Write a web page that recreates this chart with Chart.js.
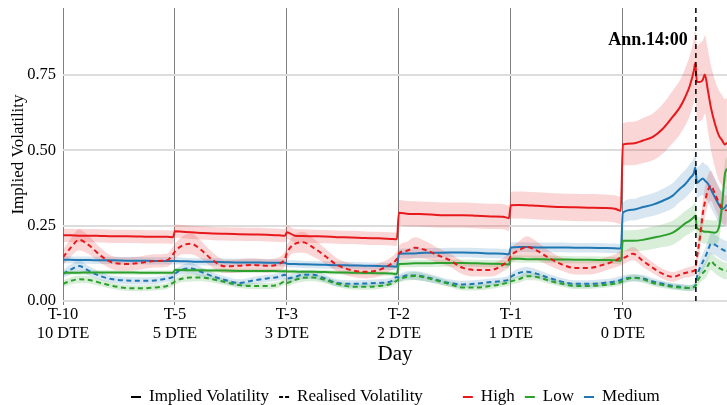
<!DOCTYPE html>
<html><head><meta charset="utf-8">
<script src="https://cdn.jsdelivr.net/npm/chart.js@4.4.1/dist/chart.umd.min.js"></script>
<style>html,body{margin:0;padding:0;background:#fff}#wrap{width:727px;height:405px;position:relative}</style>
</head><body><div id="wrap"><canvas id="c"></canvas></div>
<script>
// ---- Data (time in trading days from T-10 session start) ----
const time = [
0,0.071,0.143,0.232,0.339,0.446,0.571,0.696,0.821,0.929,0.982,
1,1.071,1.143,1.232,1.339,1.446,1.571,1.696,1.821,1.929,1.982,
2,2.071,2.143,2.232,2.339,2.446,2.571,2.696,2.821,2.929,2.982,
3,3.071,3.143,3.232,3.339,3.446,3.571,3.696,3.821,3.929,3.982,
4,4.071,4.143,4.232,4.339,4.446,4.571,4.696,4.821,4.929,4.982,
5,5.089,5.179,5.268,5.357,5.446,5.509,5.554,5.598,5.634,5.647,5.661,5.688,5.714,5.732,5.759,5.786,5.821,5.857,5.884,5.911,5.929];

const dayTicks = [0,1,2,3,4,5];
const dayLabels = ['T-10','T-5','T-3','T-2','T-1','T0'];
const dteLabels = ['10 DTE','5 DTE','3 DTE','2 DTE','1 DTE','0 DTE'];
const yTicks = [0,0.25,0.5,0.75];
const annTime = 5.652;
const annLabel = 'Ann.14:00';

const highIV = [
0.218,0.218,0.217,0.217,0.216,0.215,0.215,0.214,0.213,0.213,0.212,
0.232,0.230,0.228,0.226,0.224,0.223,0.222,0.221,0.220,0.218,0.217,
0.228,0.217,0.216,0.215,0.214,0.212,0.211,0.209,0.208,0.206,0.205,
0.293,0.290,0.289,0.288,0.286,0.285,0.285,0.283,0.281,0.280,0.275,
0.318,0.319,0.318,0.316,0.314,0.312,0.311,0.310,0.309,0.306,0.300,
0.520,0.523,0.533,0.545,0.572,0.612,0.643,0.675,0.715,0.765,0.790,0.728,0.727,0.735,0.752,0.700,0.643,0.590,0.550,0.535,0.520,0.525];
const highRV = [
0.145,0.178,0.203,0.185,0.150,0.127,0.123,0.127,0.133,0.135,0.155,
0.165,0.185,0.190,0.170,0.135,0.115,0.117,0.120,0.117,0.123,0.140,
0.160,0.190,0.195,0.178,0.150,0.120,0.103,0.097,0.103,0.123,0.140,
0.158,0.167,0.177,0.170,0.153,0.137,0.110,0.103,0.103,0.120,0.137,
0.150,0.168,0.180,0.167,0.143,0.123,0.110,0.110,0.120,0.133,0.143,
0.143,0.157,0.133,0.110,0.090,0.080,0.087,0.093,0.097,0.100,0.105,0.143,0.210,0.290,0.327,0.367,0.383,0.357,0.327,0.310,0.303,0.300];
const midIV = [
0.137,0.137,0.136,0.136,0.135,0.135,0.134,0.134,0.133,0.133,0.133,
0.133,0.132,0.131,0.130,0.130,0.129,0.128,0.128,0.127,0.127,0.127,
0.124,0.123,0.122,0.121,0.120,0.119,0.118,0.117,0.116,0.115,0.114,
0.157,0.158,0.158,0.160,0.160,0.161,0.161,0.160,0.158,0.157,0.155,
0.178,0.179,0.179,0.178,0.178,0.178,0.177,0.177,0.176,0.175,0.174,
0.293,0.303,0.312,0.320,0.333,0.350,0.373,0.387,0.407,0.425,0.443,0.393,0.400,0.407,0.400,0.390,0.370,0.345,0.320,0.305,0.310,0.320];
const midRV = [
0.090,0.105,0.116,0.100,0.082,0.072,0.068,0.067,0.068,0.075,0.080,
0.090,0.105,0.108,0.097,0.082,0.070,0.060,0.068,0.075,0.080,0.087,
0.075,0.080,0.087,0.087,0.075,0.060,0.057,0.058,0.060,0.065,0.080,
0.077,0.085,0.085,0.080,0.070,0.060,0.055,0.058,0.063,0.067,0.072,
0.080,0.093,0.097,0.090,0.077,0.065,0.057,0.057,0.060,0.065,0.070,
0.073,0.077,0.075,0.065,0.057,0.050,0.047,0.045,0.043,0.047,0.050,0.080,0.110,0.130,0.143,0.167,0.190,0.187,0.178,0.172,0.167,0.165];
const lowIV = [
0.094,0.094,0.094,0.095,0.095,0.095,0.095,0.094,0.094,0.094,0.094,
0.103,0.103,0.102,0.102,0.101,0.101,0.100,0.100,0.100,0.099,0.099,
0.098,0.098,0.097,0.097,0.096,0.095,0.094,0.093,0.092,0.091,0.090,
0.123,0.124,0.125,0.125,0.126,0.126,0.126,0.125,0.124,0.123,0.121,
0.140,0.140,0.139,0.139,0.138,0.138,0.137,0.137,0.136,0.135,0.134,
0.200,0.200,0.203,0.210,0.217,0.227,0.243,0.257,0.267,0.278,0.283,0.243,0.237,0.232,0.230,0.230,0.228,0.227,0.243,0.310,0.420,0.440];
const lowRV = [
0.057,0.067,0.072,0.070,0.060,0.050,0.043,0.042,0.045,0.050,0.060,
0.065,0.075,0.078,0.078,0.072,0.063,0.053,0.050,0.050,0.055,0.065,
0.060,0.070,0.077,0.078,0.070,0.057,0.048,0.047,0.050,0.057,0.068,
0.072,0.080,0.083,0.078,0.068,0.057,0.045,0.045,0.050,0.057,0.062,
0.065,0.072,0.082,0.080,0.068,0.058,0.050,0.050,0.053,0.058,0.063,
0.067,0.077,0.072,0.060,0.053,0.047,0.045,0.043,0.043,0.046,0.050,0.062,0.080,0.093,0.100,0.117,0.132,0.120,0.110,0.105,0.100,0.100];

// half-widths of the shaded uncertainty bands
const highIVSpread = [
0.022,0.022,0.022,0.022,0.022,0.022,0.022,0.022,0.022,0.022,0.022,
0.022,0.022,0.022,0.022,0.022,0.022,0.022,0.022,0.022,0.022,0.022,
0.022,0.022,0.022,0.022,0.022,0.022,0.022,0.022,0.022,0.022,0.022,
0.042,0.042,0.042,0.042,0.042,0.042,0.042,0.042,0.042,0.042,0.042,
0.045,0.045,0.045,0.045,0.045,0.045,0.045,0.045,0.045,0.045,0.045,
0.070,0.072,0.075,0.078,0.082,0.087,0.090,0.095,0.100,0.105,0.110,0.120,0.130,0.130,0.130,0.135,0.140,0.145,0.150,0.150,0.150,0.150];
const highRVSpread = [
0.025,0.030,0.035,0.030,0.025,0.022,0.022,0.022,0.022,0.022,0.025,
0.025,0.030,0.035,0.030,0.025,0.022,0.022,0.022,0.022,0.022,0.025,
0.025,0.030,0.035,0.030,0.025,0.022,0.022,0.022,0.022,0.022,0.025,
0.025,0.030,0.035,0.030,0.025,0.022,0.022,0.022,0.022,0.022,0.025,
0.025,0.030,0.035,0.030,0.025,0.022,0.022,0.022,0.022,0.022,0.025,
0.022,0.022,0.020,0.018,0.017,0.016,0.016,0.016,0.017,0.018,0.020,0.030,0.040,0.045,0.050,0.050,0.050,0.050,0.050,0.050,0.050,0.050];
const midIVSpread = [
0.012,0.012,0.012,0.012,0.012,0.012,0.012,0.012,0.012,0.012,0.012,
0.012,0.012,0.012,0.012,0.012,0.012,0.012,0.012,0.012,0.012,0.012,
0.012,0.012,0.012,0.012,0.012,0.012,0.012,0.012,0.012,0.012,0.012,
0.016,0.016,0.016,0.016,0.016,0.016,0.016,0.016,0.016,0.016,0.016,
0.016,0.016,0.016,0.016,0.016,0.016,0.016,0.016,0.016,0.016,0.016,
0.035,0.036,0.037,0.038,0.040,0.042,0.044,0.046,0.048,0.050,0.050,0.050,0.052,0.055,0.055,0.058,0.060,0.060,0.060,0.060,0.060,0.060];
const midRVSpread = [
0.013,0.016,0.018,0.016,0.013,0.012,0.012,0.012,0.012,0.012,0.013,
0.013,0.016,0.018,0.016,0.013,0.012,0.012,0.012,0.012,0.012,0.013,
0.013,0.014,0.015,0.014,0.013,0.012,0.012,0.012,0.012,0.012,0.013,
0.013,0.014,0.015,0.014,0.013,0.012,0.012,0.012,0.012,0.012,0.013,
0.013,0.015,0.016,0.015,0.013,0.012,0.012,0.012,0.012,0.012,0.013,
0.012,0.012,0.012,0.011,0.010,0.010,0.010,0.010,0.010,0.011,0.012,0.018,0.024,0.028,0.030,0.032,0.034,0.034,0.034,0.034,0.034,0.034];
const lowIVSpread = [
0.007,0.007,0.007,0.007,0.007,0.007,0.007,0.007,0.007,0.007,0.007,
0.007,0.007,0.007,0.007,0.007,0.007,0.007,0.007,0.007,0.007,0.007,
0.007,0.007,0.007,0.007,0.007,0.007,0.007,0.007,0.007,0.007,0.007,
0.012,0.012,0.012,0.012,0.012,0.012,0.012,0.012,0.012,0.012,0.012,
0.012,0.012,0.012,0.012,0.012,0.012,0.012,0.012,0.012,0.012,0.012,
0.035,0.035,0.036,0.037,0.038,0.040,0.041,0.042,0.043,0.044,0.045,0.040,0.040,0.040,0.040,0.040,0.040,0.040,0.040,0.040,0.040,0.040];
const lowRVSpread = [
0.011,0.012,0.013,0.012,0.011,0.010,0.010,0.010,0.010,0.010,0.011,
0.011,0.012,0.013,0.012,0.011,0.010,0.010,0.010,0.010,0.010,0.011,
0.011,0.012,0.013,0.012,0.011,0.010,0.010,0.010,0.010,0.010,0.011,
0.011,0.012,0.013,0.012,0.011,0.010,0.010,0.010,0.010,0.010,0.011,
0.011,0.012,0.013,0.012,0.011,0.010,0.010,0.010,0.010,0.010,0.011,
0.011,0.011,0.011,0.010,0.010,0.010,0.010,0.010,0.010,0.010,0.011,0.016,0.020,0.024,0.026,0.028,0.028,0.028,0.028,0.028,0.028,0.028];

// ---- Styling ----
const FONT = "'Liberation Serif','DejaVu Serif',serif";
const RED = '#e8191c', GREEN = '#2ca02c', BLUE = '#1f77b4';
const series = [
  {name:'High', color:RED, rgb:'232,25,28', iv:highIV, ivS:highIVSpread, rv:highRV, rvS:highRVSpread},
  {name:'Low', color:GREEN, rgb:'44,160,44', iv:lowIV, ivS:lowIVSpread, rv:lowRV, rvS:lowRVSpread},
  {name:'Medium', color:BLUE, rgb:'31,119,180', iv:midIV, ivS:midIVSpread, rv:midRV, rvS:midRVSpread}
];
const pts = arr => time.map((t,i)=>({x:t, y:arr[i]}));

const lines = [], bands = [];
series.forEach(s => {
  lines.push({label:s.name+' IV', data:pts(s.iv), borderColor:s.color, borderWidth:2, pointRadius:0, fill:false, cubicInterpolationMode:'monotone'});
  lines.push({label:s.name+' RV', data:pts(s.rv), borderColor:s.color, borderWidth:2, borderDash:[5,3.5], pointRadius:0, fill:false, cubicInterpolationMode:'monotone'});
  [[s.iv, s.ivS],[s.rv, s.rvS]].forEach(([v, sp]) => {
    bands.push({label:'', data:pts(v.map((y,i)=>y+sp[i])), borderWidth:0, borderColor:'rgba(0,0,0,0)', pointRadius:0, fill:false, cubicInterpolationMode:'monotone'});
    bands.push({label:'', data:pts(v.map((y,i)=>y-sp[i])), borderWidth:0, borderColor:'rgba(0,0,0,0)', pointRadius:0, fill:'-1', backgroundColor:'rgba('+s.rgb+',0.18)', cubicInterpolationMode:'monotone'});
  });
});

const legendItems = [
  {text:'Implied Volatility', color:'#000', dash:[]},
  {text:'Realised Volatility', color:'#000', dash:[4,2]},
  {text:'High', color:RED, dash:[], gapBefore:30},
  {text:'Low', color:GREEN, dash:[]},
  {text:'Medium', color:BLUE, dash:[]}
];

const overlay = {
  id:'overlay',
  afterDraw(chart){
    const ctx = chart.ctx, xs = chart.scales.x, ca = chart.chartArea;
    const ax = xs.getPixelForValue(annTime);
    ctx.save();
    ctx.strokeStyle = '#000'; ctx.lineWidth = 1.5; ctx.setLineDash([5,4]);
    ctx.beginPath(); ctx.moveTo(ax, ca.top); ctx.lineTo(ax, ca.bottom + 4); ctx.stroke();
    ctx.setLineDash([]);
    ctx.fillStyle = '#000'; ctx.font = 'bold 18px ' + FONT; ctx.textAlign = 'right'; ctx.textBaseline = 'alphabetic';
    ctx.fillText(annLabel, ax - 8, 45);
    // legend
    ctx.font = '17px ' + FONT; ctx.textAlign = 'left'; ctx.textBaseline = 'middle';
    let x = 131; const y = 397;
    legendItems.forEach(it => {
      if (it.gapBefore) x += it.gapBefore;
      ctx.strokeStyle = it.color; ctx.lineWidth = 2; ctx.setLineDash(it.dash);
      ctx.beginPath(); ctx.moveTo(x, y); ctx.lineTo(x + 10, y); ctx.stroke();
      ctx.setLineDash([]);
      x += 18;
      ctx.fillStyle = '#000'; ctx.fillText(it.text, x, y);
      x += ctx.measureText(it.text).width + 10;
    });
    ctx.restore();
  }
};

new Chart(document.getElementById('c'), {
  type:'line',
  data:{datasets: lines.concat(bands)},
  options:{
    responsive:true, maintainAspectRatio:false, animation:false, events:[],
    layout:{padding:{top:8, right:0, bottom:0, left:0}},
    plugins:{legend:{display:false}, tooltip:{enabled:false}, filler:{drawTime:'beforeDatasetsDraw', propagate:false}},
    scales:{
      x:{type:'linear', min:0, max:5.93,
        afterBuildTicks: s => { s.ticks = dayTicks.map(v=>({value:v})); },
        afterFit: s => { s.height = 104; s.paddingLeft = 0; s.paddingRight = 0; },
        ticks:{autoSkip:false, maxRotation:0, padding:1, color:'#000', font:{family:FONT, size:16.5, lineHeight:1.1},
          callback:(v,i)=>[dayLabels[i], dteLabels[i]]},
        grid:{color:'#808080', lineWidth:1, drawTicks:true, tickLength:4},
        border:{display:false},
        title:{display:true, text:'Day', color:'#000', font:{family:FONT, size:21}, padding:{top:0, bottom:38}}
      },
      y:{min:0, max:0.973,
        afterBuildTicks: s => { s.ticks = yTicks.map(v=>({value:v})); },
        afterFit: s => { s.width = 63; s.paddingTop = 0; s.paddingBottom = 0; },
        ticks:{padding:7, color:'#000', font:{family:FONT, size:16.5}, callback:v=>v.toFixed(2)},
        grid:{color:'#dcdcdc', lineWidth:2, drawTicks:false},
        border:{display:false},
        title:{display:true, text:'Implied Volatility', color:'#000', font:{family:FONT, size:17}, padding:{top:8, bottom:4}}
      }
    }
  },
  plugins:[overlay]
});
</script></body></html>
